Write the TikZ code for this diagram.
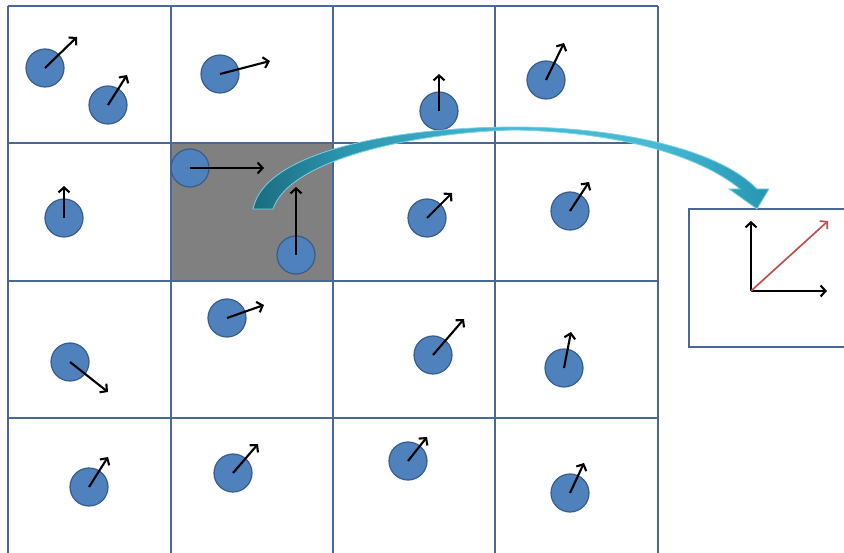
\documentclass[tikz,border=0pt]{standalone}
\usetikzlibrary{arrows.meta}
\definecolor{gridblue}{RGB}{74,104,150}
\definecolor{ballfill}{RGB}{79,129,189}
\definecolor{ballline}{RGB}{56,93,138}
\definecolor{cellgray}{RGB}{128,128,128}
\definecolor{tealdark}{RGB}{27,108,126}
\definecolor{tealmed}{RGB}{44,150,176}
\definecolor{tealmid}{RGB}{70,185,212}
\definecolor{tealend}{RGB}{38,150,178}
\definecolor{teallight}{RGB}{120,210,228}
\definecolor{vecred}{RGB}{192,80,77}
\pgfdeclarehorizontalshading{bandshade}{100bp}{color(0bp)=(tealdark); color(25bp)=(tealdark); color(34bp)=(tealmed); color(50bp)=(tealmid); color(64bp)=(tealmid); color(75bp)=(tealend); color(100bp)=(tealend)}
\tikzset{
  gridline/.style={draw=gridblue, line width=1.8pt},
  ball/.style={circle, fill=ballfill, draw=ballline, line width=1.2pt, minimum size=38pt, inner sep=0pt},
  vec/.style={black, line width=2.1pt, -{Straight Barb[length=5pt,width=11pt]}},
  redvec/.style={vecred, line width=1.7pt, -{Straight Barb[length=5pt,width=11pt]}},
}
\begin{document}
\begin{tikzpicture}[x=1pt,y=-1pt]
\useasboundingbox (0,0) rectangle (844,553);
\clip (0,0) rectangle (844,553);
\fill[white] (0,0) rectangle (844,553);
% highlighted cell
\fill[cellgray] (171,143) rectangle (333,281);
% grid
\foreach \x in {8,171,333,495,658} \draw[gridline] (\x,6) -- (\x,560);
\foreach \y in {6,143,281,418} \draw[gridline] (8,\y) -- (658,\y);
% inset box
\draw[gridline] (689,209) rectangle (860,347);
% balls
\node[ball] (b1) at (45,68) {};
\node[ball] (b2) at (108,105) {};
\node[ball] (b3) at (220,74) {};
\node[ball] (b4) at (439,111) {};
\node[ball] (b5) at (546,80) {};
\node[ball] (b6) at (64,218) {};
\node[ball] (b7) at (190,168) {};
\node[ball] (b8) at (296,255) {};
\node[ball] (b9) at (427,218) {};
\node[ball] (b10) at (570,211) {};
\node[ball] (b11) at (70,362) {};
\node[ball] (b12) at (227,318) {};
\node[ball] (b13) at (433,355) {};
\node[ball] (b14) at (564,368) {};
\node[ball] (b15) at (89,487) {};
\node[ball] (b16) at (233,473) {};
\node[ball] (b17) at (408,461) {};
\node[ball] (b18) at (570,493) {};
% arrow end points
\coordinate (e1) at (77,37);
\coordinate (e2) at (127,75);
\coordinate (e3) at (270,61);
\coordinate (e4) at (439,74);
\coordinate (e5) at (564,43);
\coordinate (e6) at (64,186);
\coordinate (e7) at (264,168);
\coordinate (e8) at (296,187);
\coordinate (e9) at (452,193);
\coordinate (e10) at (589,182);
\coordinate (e11) at (108,392);
\coordinate (e12) at (264,305);
\coordinate (e13) at (464,319);
\coordinate (e14) at (571,332);
\coordinate (e15) at (108,457);
\coordinate (e16) at (258,444);
\coordinate (e17) at (427,437);
\coordinate (e18) at (584,463);
\foreach \i in {1,...,18} \draw[vec] (b\i.center) -- (e\i);
% inset axes
\coordinate (o) at (751,291);
\coordinate (ay) at (751,221);
\coordinate (ax) at (827,291);
\coordinate (ad) at (828,221);
\draw[vec] (o) -- (ay);
\draw[vec] (o) -- (ax);
\draw[redvec] (o) -- (ad);
% curved arrow
\shade[shading=bandshade, draw=teallight, line width=0.8pt]
  (253,209) -- (273,209)
  .. controls (290,158) and (420,132) .. (515,130)
  .. controls (620,132) and (700,156) .. (740,189)
  -- (729,189) -- (757,209) -- (769,189) -- (757,189)
  .. controls (720,150) and (620,127) .. (515,127)
  .. controls (400,127) and (265,150) .. (253,209) -- cycle;
\end{tikzpicture}
\end{document}
